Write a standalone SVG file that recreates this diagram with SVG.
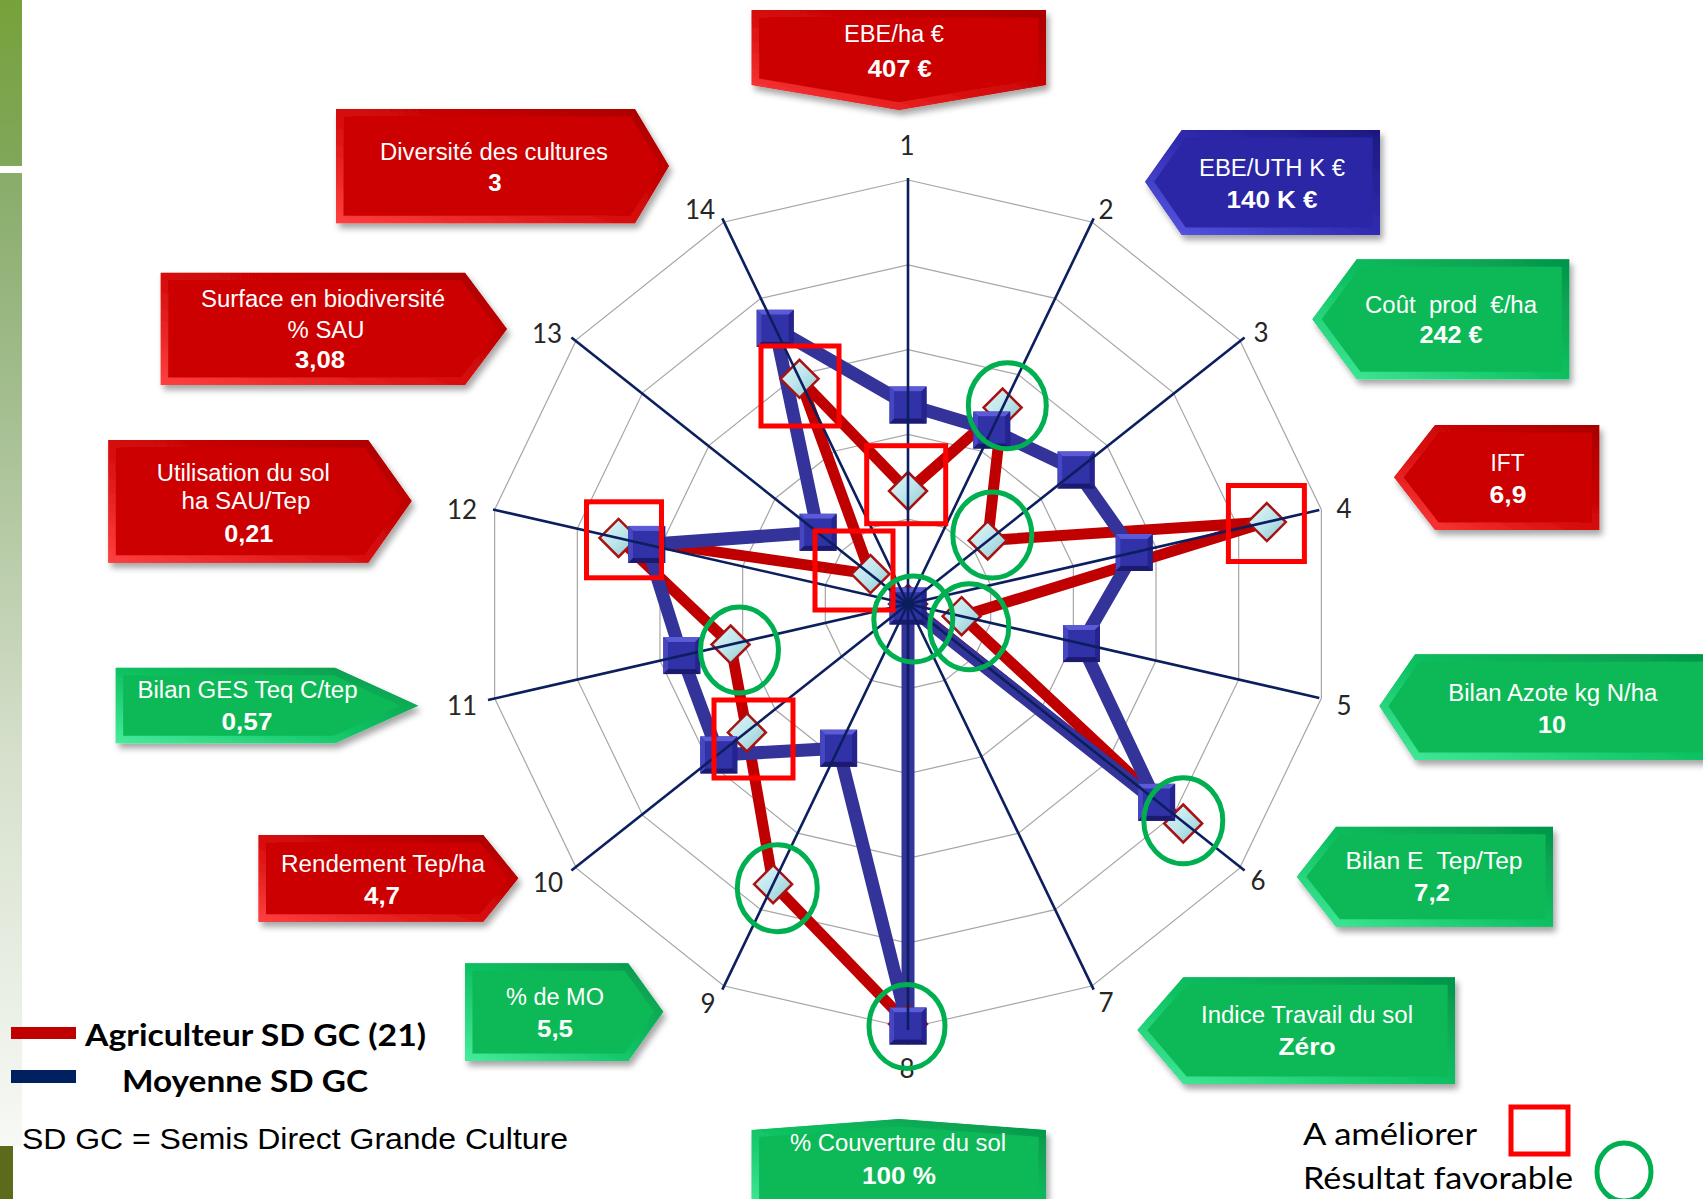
<svg xmlns="http://www.w3.org/2000/svg" width="1703" height="1199" viewBox="0 0 1703 1199">
<defs>
  <style>
    .num{font-family:Lato,"Open Sans",sans-serif;font-size:26px;fill:#262626;text-anchor:middle}
    .cl{font-family:"Liberation Sans",Arial,sans-serif;font-size:23px;fill:#fff;text-anchor:middle;white-space:pre}
    .cb{font-family:"Liberation Sans",Arial,sans-serif;font-size:24px;font-weight:bold;fill:#fff;text-anchor:middle}
    .grid{fill:none;stroke:#A6A6A6;stroke-width:1.2}
    .spoke{stroke:#0B1F5E;stroke-width:2.6;fill:none}
    .ser-b{fill:none;stroke:#333399;stroke-width:13;stroke-linejoin:round}
    .ser-r{fill:none;stroke:#C00000;stroke-width:11;stroke-linejoin:round}
    .bad{fill:none;stroke:#FF0000;stroke-width:5}
    .good{fill:none;stroke:#00B050;stroke-width:5}
    .red{fill:#CC0404;stroke:url(#bvR);stroke-width:15;stroke-linejoin:miter}
    .green{fill:#08B957;stroke:url(#bvG);stroke-width:15;stroke-linejoin:miter}
    .blue{fill:#2B27A6;stroke:url(#bvB);stroke-width:15;stroke-linejoin:miter}
    .leg{font-family:Lato,"Open Sans",sans-serif;font-weight:bold;font-size:31px;fill:#000}
    .legn{font-family:Lato,"Open Sans",sans-serif;font-size:31px;fill:#000}
  </style>
  <linearGradient id="barTop" x1="0" y1="0" x2="0" y2="1">
    <stop offset="0" stop-color="#76A23B"/><stop offset="1" stop-color="#80A75A"/>
  </linearGradient>
  <linearGradient id="barLow" x1="0" y1="0" x2="0" y2="1">
    <stop offset="0" stop-color="#88AC6A"/><stop offset="0.25" stop-color="#A6BF92"/>
    <stop offset="0.6" stop-color="#D6E0CC"/><stop offset="1" stop-color="#F7F9F5"/>
  </linearGradient>
  <linearGradient id="bvR" x1="1" y1="0" x2="0" y2="1">
    <stop offset="0" stop-color="#A80000"/><stop offset="0.5" stop-color="#D40808"/><stop offset="1" stop-color="#FF4040"/>
  </linearGradient>
  <linearGradient id="bvG" x1="1" y1="0" x2="0" y2="1">
    <stop offset="0" stop-color="#05944A"/><stop offset="0.5" stop-color="#0CC060"/><stop offset="1" stop-color="#46EC9C"/>
  </linearGradient>
  <linearGradient id="bvB" x1="1" y1="0" x2="0" y2="1">
    <stop offset="0" stop-color="#1C1880"/><stop offset="0.5" stop-color="#302CB0"/><stop offset="1" stop-color="#5A5AE6"/>
  </linearGradient>
  <linearGradient id="dg" x1="0" y1="0" x2="1" y2="1">
    <stop offset="0" stop-color="#E2F7F8"/><stop offset="0.5" stop-color="#BDE6EC"/><stop offset="1" stop-color="#8CC6D0"/>
  </linearGradient>
  <filter id="sh" x="-10%" y="-10%" width="125%" height="140%">
    <feDropShadow dx="3" dy="5" stdDeviation="3" flood-color="#000" flood-opacity="0.35"/>
  </filter>

  <!-- radar web, outer ring radius 424 -->
  <polygon id="ring" vector-effect="non-scaling-stroke" points="0,-424 183.97,-382.01 331.5,-264.36 413.37,-94.35 413.37,94.35 331.5,264.36 183.97,382.01 0,424 -183.97,382.01 -331.5,264.36 -413.37,94.35 -413.37,-94.35 -331.5,-264.36 -183.97,-382.01"/>

  <!-- bevelled square marker (average series) -->
  <g id="bsq">
    <rect x="-18.5" y="-18.5" width="37" height="37" fill="#22228A"/>
    <polygon points="-18.5,-18.5 18.5,-18.5 13.5,-13.5 -13.5,-13.5" fill="#5B5BD8"/>
    <polygon points="-18.5,-18.5 -13.5,-13.5 -13.5,13.5 -18.5,18.5" fill="#4646C2"/>
    <polygon points="18.5,-18.5 18.5,18.5 13.5,13.5 13.5,-13.5" fill="#25238E"/>
    <polygon points="-18.5,18.5 18.5,18.5 13.5,13.5 -13.5,13.5" fill="#1B1A70"/>
    <rect x="-13.5" y="-13.5" width="27" height="27" fill="#3232A8"/>
  </g>
  <!-- diamond marker (farmer series) -->
  <g id="dia">
    <polygon points="0,-19 19,0 0,19 -19,0" fill="url(#dg)" stroke="#A81212" stroke-width="2.5"/>
  </g>

  <!-- callout outlines -->
  <polygon id="p1" points="751.6,10 1046,10 1046,85 899,110 751.6,85"/>
  <polygon id="p2" points="336,109 635,109 669,166 635,223.3 336,223.3"/>
  <polygon id="p3" points="160.7,272.7 465,272.7 507,329 465,385 160.7,385"/>
  <polygon id="p4" points="108.3,440 368.3,440 411.7,501 368.3,562.7 108.3,562.7"/>
  <polygon id="p5" points="115.7,667.7 335,667.7 418.3,705.7 335,743.3 115.7,743.3"/>
  <polygon id="p6" points="258.5,835 483.3,835 518.3,878.3 483.3,921.7 258.5,921.7"/>
  <polygon id="p7" points="465,963.3 628.3,963.3 663.3,1011.7 628.3,1061 465,1061"/>
  <polygon id="p8" points="751.6,1130 899,1119 1046,1130 1046,1215 751.6,1215"/>
  <polygon id="p9" points="1137.3,1030 1183.3,977.3 1455,977.3 1455,1084 1183.3,1084"/>
  <polygon id="p10" points="1296.7,876.7 1336,826.7 1553,826.7 1553,926.7 1336,926.7"/>
  <polygon id="p11" points="1379.3,706 1415,654.3 1720,654.3 1720,760 1415,760"/>
  <polygon id="p12" points="1394,477.3 1435,425 1599.3,425 1599.3,530 1435,530"/>
  <polygon id="p13" points="1312.3,319.3 1356.7,259.3 1569.3,259.3 1569.3,379.3 1356.7,379.3"/>
  <polygon id="p14" points="1145,181.7 1181.7,130 1380,130 1380,235 1181.7,235"/>
  <clipPath id="k1"><use href="#p1"/></clipPath>
  <clipPath id="k2"><use href="#p2"/></clipPath>
  <clipPath id="k3"><use href="#p3"/></clipPath>
  <clipPath id="k4"><use href="#p4"/></clipPath>
  <clipPath id="k5"><use href="#p5"/></clipPath>
  <clipPath id="k6"><use href="#p6"/></clipPath>
  <clipPath id="k7"><use href="#p7"/></clipPath>
  <clipPath id="k8"><use href="#p8"/></clipPath>
  <clipPath id="k9"><use href="#p9"/></clipPath>
  <clipPath id="k10"><use href="#p10"/></clipPath>
  <clipPath id="k11"><use href="#p11"/></clipPath>
  <clipPath id="k12"><use href="#p12"/></clipPath>
  <clipPath id="k13"><use href="#p13"/></clipPath>
  <clipPath id="k14"><use href="#p14"/></clipPath>
</defs>

<rect width="1703" height="1199" fill="#fff"/>

<!-- side band -->
<g id="side-band">
  <rect x="0" y="0" width="22" height="166" fill="url(#barTop)"/>
  <rect x="0" y="173" width="22" height="973" fill="url(#barLow)"/>
  <rect x="0" y="1146" width="13" height="53" fill="#5A6B1C"/>
</g>

<!-- radar web -->
<g id="web" class="grid">
  <use href="#ring" transform="translate(908 604) scale(0.2)"/>
  <use href="#ring" transform="translate(908 604) scale(0.4)"/>
  <use href="#ring" transform="translate(908 604) scale(0.6)"/>
  <use href="#ring" transform="translate(908 604) scale(0.8)"/>
  <use href="#ring" transform="translate(908 604)"/>
</g>

<!-- data series: lines first, then markers -->
<g id="series">
  <polygon class="ser-r" points="908,491 1002.6,407.6 987.7,540.4 1266.8,522.1 961.6,616.2 1183.2,823.5 908,604 908,1024 773.1,884.2 746.9,732.4 730.6,644.5 618.5,537.9 870.5,574.1 799.5,378.8"/>
  <polygon class="ser-b" points="908,405 991.7,430.1 1076.1,470 1134.2,552.4 1081.5,643.6 1156.6,802.3 908,606 908,1026 838.6,748.2 718.8,754.9 681.8,655.6 646.7,544.4 818.1,532.3 775.2,328.3"/>
  <g id="farmer-markers">
    <use href="#dia" x="908" y="491"/>
    <use href="#dia" x="1002.6" y="407.6"/>
    <use href="#dia" x="987.7" y="540.4"/>
    <use href="#dia" x="1266.8" y="522.1"/>
    <use href="#dia" x="961.6" y="616.2"/>
    <use href="#dia" x="1183.2" y="823.5"/>
    <use href="#dia" x="908" y="604"/>
    <use href="#dia" x="908" y="1024"/>
    <use href="#dia" x="773.1" y="884.2"/>
    <use href="#dia" x="746.9" y="732.4"/>
    <use href="#dia" x="730.6" y="644.5"/>
    <use href="#dia" x="618.5" y="537.9"/>
    <use href="#dia" x="870.5" y="574.1"/>
    <use href="#dia" x="799.5" y="378.8"/>
  </g>
  <g id="average-markers">
    <use href="#bsq" x="908" y="405"/>
    <use href="#bsq" x="991.7" y="430.1"/>
    <use href="#bsq" x="1076.1" y="470"/>
    <use href="#bsq" x="1134.2" y="552.4"/>
    <use href="#bsq" x="1081.5" y="643.6"/>
    <use href="#bsq" x="1156.6" y="802.3"/>
    <use href="#bsq" x="908" y="606"/>
    <use href="#bsq" x="908" y="1026"/>
    <use href="#bsq" x="838.6" y="748.2"/>
    <use href="#bsq" x="718.8" y="754.9"/>
    <use href="#bsq" x="681.8" y="655.6"/>
    <use href="#bsq" x="646.7" y="544.4"/>
    <use href="#bsq" x="818.1" y="532.3"/>
    <use href="#bsq" x="775.2" y="328.3"/>
  </g>
</g>

<!-- connectors: spokes from the centre to each axis -->
<g id="connectors" class="spoke">
  <line x1="908" y1="604" x2="908" y2="178"/>
  <line x1="908" y1="604" x2="1093.7" y2="218.4"/>
  <line x1="908" y1="604" x2="1244.6" y2="337.4"/>
  <line x1="908" y1="604" x2="1319.3" y2="510.1"/>
  <line x1="908" y1="604" x2="1319.3" y2="697.9"/>
  <line x1="908" y1="604" x2="1244.6" y2="870.6"/>
  <line x1="908" y1="604" x2="1093.7" y2="989.6"/>
  <line x1="908" y1="604" x2="908" y2="1030"/>
  <line x1="908" y1="604" x2="722.3" y2="989.6"/>
  <line x1="908" y1="604" x2="571.4" y2="870.6"/>
  <line x1="908" y1="604" x2="488" y2="700"/>
  <line x1="908" y1="604" x2="493" y2="509.5"/>
  <line x1="908" y1="604" x2="571.4" y2="337.4"/>
  <line x1="908" y1="604" x2="722.3" y2="218.4"/>
</g>

<!-- axis numbers -->
<g id="axis-labels" class="num">
  <text x="907" y="155">1</text>
  <text x="1106" y="219">2</text>
  <text x="1261" y="342">3</text>
  <text x="1344" y="518">4</text>
  <text x="1344" y="715">5</text>
  <text x="1258" y="890">6</text>
  <text x="1106" y="1012">7</text>
  <text x="907" y="1078">8</text>
  <text x="708" y="1013">9</text>
  <text x="548" y="892">10</text>
  <text x="462" y="715">11</text>
  <text x="462" y="519">12</text>
  <text x="547" y="343">13</text>
  <text x="700" y="219">14</text>
</g>

<!-- annotation marks -->
<g id="marks-improve" class="bad">
  <rect x="761" y="346" width="78" height="80"/>
  <rect x="866.7" y="445.7" width="79" height="78"/>
  <rect x="815" y="531" width="78" height="79"/>
  <rect x="1228.4" y="485.5" width="76" height="76"/>
  <rect x="586.5" y="501.8" width="75" height="76"/>
  <rect x="714" y="700" width="79" height="78"/>
</g>
<g id="marks-favourable" class="good">
  <ellipse cx="1007.3" cy="405.7" rx="39" ry="43"/>
  <ellipse cx="992.3" cy="535" rx="39.5" ry="43"/>
  <ellipse cx="913.3" cy="619" rx="39.5" ry="43"/>
  <ellipse cx="969.3" cy="626.7" rx="39.5" ry="43"/>
  <ellipse cx="739.5" cy="650" rx="39" ry="43"/>
  <ellipse cx="777.3" cy="888.3" rx="40" ry="43.5"/>
  <ellipse cx="1183.3" cy="820.7" rx="39.5" ry="43"/>
  <ellipse cx="907" cy="1026.4" rx="38" ry="42"/>
</g>

<!-- indicator callouts -->
<g id="c1">
  <g filter="url(#sh)"><use href="#p1" class="red" clip-path="url(#k1)"/></g>
  <text class="cl" x="894" y="41.7" textLength="100" lengthAdjust="spacingAndGlyphs">EBE/ha €</text>
  <text class="cb" x="899.7" y="77.3" textLength="64" lengthAdjust="spacingAndGlyphs">407 €</text>
</g>
<g id="c2">
  <g filter="url(#sh)"><use href="#p2" class="red" clip-path="url(#k2)"/></g>
  <text class="cl" x="494" y="160" textLength="228" lengthAdjust="spacingAndGlyphs">Diversité des cultures</text>
  <text class="cb" x="495" y="191">3</text>
</g>
<g id="c3">
  <g filter="url(#sh)"><use href="#p3" class="red" clip-path="url(#k3)"/></g>
  <text class="cl" x="323" y="306.7" textLength="244" lengthAdjust="spacingAndGlyphs">Surface en biodiversité</text>
  <text class="cl" x="326" y="338" textLength="77" lengthAdjust="spacingAndGlyphs">% SAU</text>
  <text class="cb" x="320" y="368" textLength="50" lengthAdjust="spacingAndGlyphs">3,08</text>
</g>
<g id="c4">
  <g filter="url(#sh)"><use href="#p4" class="red" clip-path="url(#k4)"/></g>
  <text class="cl" x="243.3" y="480.7" textLength="173" lengthAdjust="spacingAndGlyphs">Utilisation du sol</text>
  <text class="cl" x="246" y="509.3" textLength="129" lengthAdjust="spacingAndGlyphs">ha SAU/Tep</text>
  <text class="cb" x="248.7" y="541.7" textLength="49" lengthAdjust="spacingAndGlyphs">0,21</text>
</g>
<g id="c5">
  <g filter="url(#sh)"><use href="#p5" class="green" clip-path="url(#k5)"/></g>
  <text class="cl" x="247.5" y="698.3" textLength="220" lengthAdjust="spacingAndGlyphs">Bilan GES Teq C/tep</text>
  <text class="cb" x="247" y="730" textLength="51" lengthAdjust="spacingAndGlyphs">0,57</text>
</g>
<g id="c6">
  <g filter="url(#sh)"><use href="#p6" class="red" clip-path="url(#k6)"/></g>
  <text class="cl" x="383" y="872" textLength="204" lengthAdjust="spacingAndGlyphs">Rendement Tep/ha</text>
  <text class="cb" x="382" y="903.7" textLength="36" lengthAdjust="spacingAndGlyphs">4,7</text>
</g>
<g id="c7">
  <g filter="url(#sh)"><use href="#p7" class="green" clip-path="url(#k7)"/></g>
  <text class="cl" x="555" y="1005" textLength="98" lengthAdjust="spacingAndGlyphs">% de MO</text>
  <text class="cb" x="555" y="1036.7" textLength="36" lengthAdjust="spacingAndGlyphs">5,5</text>
</g>
<g id="c8">
  <g filter="url(#sh)"><use href="#p8" class="green" clip-path="url(#k8)"/></g>
  <text class="cl" x="898" y="1151" textLength="216" lengthAdjust="spacingAndGlyphs">% Couverture du sol</text>
  <text class="cb" x="899" y="1184" textLength="74" lengthAdjust="spacingAndGlyphs">100 %</text>
</g>
<g id="c9">
  <g filter="url(#sh)"><use href="#p9" class="green" clip-path="url(#k9)"/></g>
  <text class="cl" x="1307" y="1023.3" textLength="212" lengthAdjust="spacingAndGlyphs">Indice Travail du sol</text>
  <text class="cb" x="1307" y="1055" textLength="57" lengthAdjust="spacingAndGlyphs">Zéro</text>
</g>
<g id="c10">
  <g filter="url(#sh)"><use href="#p10" class="green" clip-path="url(#k10)"/></g>
  <text class="cl" x="1434" y="869.3" textLength="177" lengthAdjust="spacingAndGlyphs">Bilan E  Tep/Tep</text>
  <text class="cb" x="1432" y="900.7" textLength="36" lengthAdjust="spacingAndGlyphs">7,2</text>
</g>
<g id="c11">
  <g filter="url(#sh)"><use href="#p11" class="green" clip-path="url(#k11)"/></g>
  <text class="cl" x="1552.8" y="700.7" textLength="209" lengthAdjust="spacingAndGlyphs">Bilan Azote kg N/ha</text>
  <text class="cb" x="1552" y="733.3" textLength="28" lengthAdjust="spacingAndGlyphs">10</text>
</g>
<g id="c12">
  <g filter="url(#sh)"><use href="#p12" class="red" clip-path="url(#k12)"/></g>
  <text class="cl" x="1507.5" y="471" textLength="34" lengthAdjust="spacingAndGlyphs">IFT</text>
  <text class="cb" x="1508" y="502.7" textLength="37" lengthAdjust="spacingAndGlyphs">6,9</text>
</g>
<g id="c13">
  <g filter="url(#sh)"><use href="#p13" class="green" clip-path="url(#k13)"/></g>
  <text class="cl" x="1451" y="312.7" textLength="172" lengthAdjust="spacingAndGlyphs">Coût  prod  €/ha</text>
  <text class="cb" x="1451" y="343.3" textLength="63" lengthAdjust="spacingAndGlyphs">242 €</text>
</g>
<g id="c14">
  <g filter="url(#sh)"><use href="#p14" class="blue" clip-path="url(#k14)"/></g>
  <text class="cl" x="1272" y="176" textLength="146" lengthAdjust="spacingAndGlyphs">EBE/UTH K €</text>
  <text class="cb" x="1272" y="207.7" textLength="91" lengthAdjust="spacingAndGlyphs">140 K €</text>
</g>

<!-- series legend -->
<g id="legend-series">
  <rect x="11" y="1027" width="65" height="12" fill="#C00000"/>
  <text class="leg" x="85" y="1046" textLength="341" lengthAdjust="spacingAndGlyphs">Agriculteur SD GC (21)</text>
  <rect x="11" y="1070" width="65" height="13" fill="#002060"/>
  <text class="leg" x="122" y="1091.5" textLength="246" lengthAdjust="spacingAndGlyphs">Moyenne SD GC</text>
  <text x="22" y="1149" font-family="'Liberation Sans',Arial,sans-serif" font-size="30" fill="#000" textLength="546" lengthAdjust="spacingAndGlyphs">SD GC = Semis Direct Grande Culture</text>
</g>

<!-- marks legend -->
<g id="legend-marks">
  <text class="legn" x="1303" y="1145" textLength="174" lengthAdjust="spacingAndGlyphs">A améliorer</text>
  <rect x="1511" y="1107" width="57" height="47" class="bad"/>
  <text class="legn" x="1303" y="1189" textLength="270" lengthAdjust="spacingAndGlyphs">Résultat favorable</text>
  <ellipse cx="1624" cy="1172" rx="27" ry="29" class="good"/>
</g>
</svg>
